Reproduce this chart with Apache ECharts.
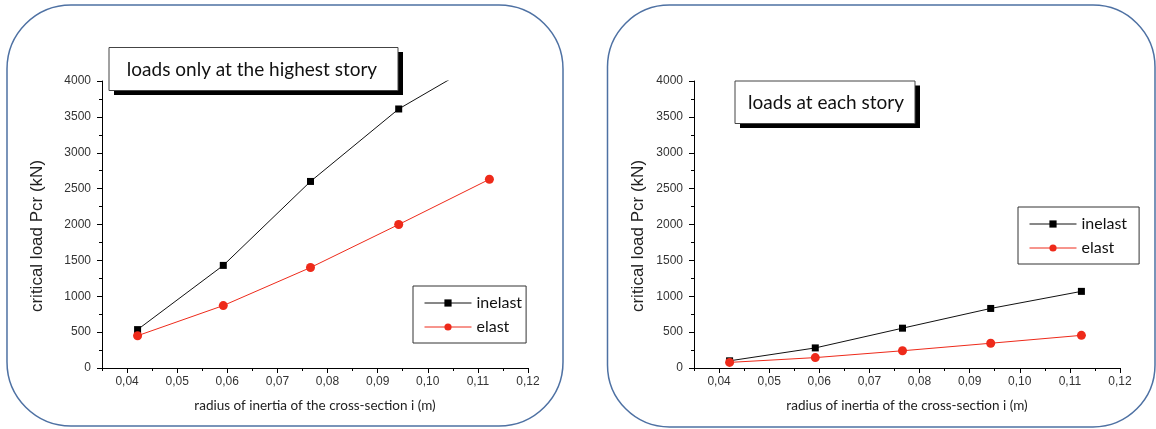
<!DOCTYPE html>
<html>
<head>
<meta charset="utf-8">
<script src="https://cdn.jsdelivr.net/npm/echarts@6/dist/echarts.min.js"></script>
<style>
html,body{margin:0;padding:0;background:#fff;}
#chart{width:1156px;height:429px;}
</style>
</head>
<body>
<div id="chart"></div>
<script>
// ---- data ----
const radius = [0.0421, 0.0592, 0.0766, 0.0942, 0.1123];
// loads only at the highest story
const topInelast = [535, 1430, 2600, 3610, 4345];
const topElast = [450, 870, 1400, 2000, 2630];
// loads at each story
const eachInelast = [100, 280, 555, 830, 1068];
const eachElast = [78, 145, 240, 345, 455];
const xMajorTicks = [0.04, 0.05, 0.06, 0.07, 0.08, 0.09, 0.10, 0.11, 0.12];
const xMinorTicks = [0.035, 0.045, 0.055, 0.065, 0.075, 0.085, 0.095, 0.105, 0.115];
const seriesNames = ['inelast', 'elast'];
const panelTitles = ['loads only at the highest story', 'loads at each story'];
const xTitle = 'radius of inertia of the cross-section i (m)';
const yTitle = 'critical load Pcr (kN)';

const pairs = (xs, ys) => xs.map((x, i) => [x, ys[i]]);
const RED = '#ee2a1a';
const BORDER = '#4e71a3';
const sansArial = "'Liberation Sans', Arial, sans-serif";
const sansTitle = "Lato, 'Open Sans', sans-serif";

const grids = [
  {left: 102, top: 81, width: 426, height: 287},
  {left: 694, top: 81, width: 426, height: 287}
];

function xAxesFor(gi) {
  return [
    {
      gridIndex: gi, type: 'value', position: 'bottom', min: 0.035, max: 0.12,
      axisLine: {show: true, onZero: false, lineStyle: {color: '#000', width: 1}},
      axisTick: {show: true, length: 5, customValues: xMajorTicks, lineStyle: {color: '#000'}},
      axisLabel: {customValues: xMajorTicks, margin: 8, fontSize: 12, color: '#333', fontFamily: sansArial,
        formatter: v => v.toFixed(2).replace('.', ',')},
      splitLine: {show: false},
      name: xTitle, nameLocation: 'middle', nameGap: 31,
      nameTextStyle: {fontFamily: sansTitle, fontSize: 13.5, color: '#222'}
    },
    {
      gridIndex: gi, type: 'value', position: 'bottom', min: 0.035, max: 0.12,
      axisLine: {show: false},
      axisTick: {show: true, length: 3, customValues: xMinorTicks, lineStyle: {color: '#000'}},
      axisLabel: {show: false},
      splitLine: {show: false}
    }
  ];
}
function yAxisFor(gi) {
  return {
    gridIndex: gi, type: 'value', min: 0, max: 4000, interval: 500,
    axisLine: {show: true, onZero: false, lineStyle: {color: '#000', width: 1}},
    axisTick: {show: true, length: 5, lineStyle: {color: '#000'}},
    minorTick: {show: true, splitNumber: 2, length: 3, lineStyle: {color: '#000'}},
    axisLabel: {margin: 11, fontSize: 12, color: '#333', fontFamily: sansArial, formatter: v => String(v)},
    splitLine: {show: false}, minorSplitLine: {show: false}
  };
}
function seriesFor(gi, inel, el) {
  return [
    {name: seriesNames[0], type: 'line', xAxisIndex: gi * 2, yAxisIndex: gi,
     data: pairs(radius, inel), symbol: 'rect', symbolSize: 7, clip: true,
     lineStyle: {color: '#111', width: 1}, itemStyle: {color: '#000'}},
    {name: seriesNames[1], type: 'line', xAxisIndex: gi * 2, yAxisIndex: gi,
     data: pairs(radius, el), symbol: 'circle', symbolSize: 9, clip: true,
     lineStyle: {color: RED, width: 1}, itemStyle: {color: RED}}
  ];
}
function legendAt(left, top, padRight) {
  return {
    data: seriesNames, orient: 'vertical', left: left, top: top,
    itemWidth: 47, itemHeight: 9, itemGap: 8,
    padding: [9, padRight, 8, 11],
    borderColor: '#333', borderWidth: 1, borderRadius: 0,
    backgroundColor: '#fff',
    lineStyle: {width: 1},
    textStyle: {fontFamily: sansTitle, fontSize: 16, color: '#111'},
    selectedMode: false
  };
}
function titleBox(x, y, w, h, text, cx, cy) {
  return [
    {type: 'rect', z: 20, shape: {x: x + 5, y: y + 4.5, width: w, height: h}, style: {fill: '#000'}},
    {type: 'rect', z: 21, shape: {x: x, y: y, width: w, height: h}, style: {fill: '#fff', stroke: '#444', lineWidth: 1}},
    {type: 'text', z: 22, x: cx, y: cy, style: {text: text, fontFamily: sansTitle, fontSize: 19, fill: '#111', align: 'center', verticalAlign: 'middle'}}
  ];
}

const chart = echarts.init(document.getElementById('chart'), null, {renderer: 'canvas'});
chart.setOption({
  animation: false,
  backgroundColor: '#fff',
  grid: grids,
  xAxis: [...xAxesFor(0), ...xAxesFor(1)],
  yAxis: [yAxisFor(0), yAxisFor(1)],
  series: [...seriesFor(0, topInelast, topElast), ...seriesFor(1, eachInelast, eachElast)],
  legend: [legendAt(413, 286, 4), legendAt(1018, 207, 12)],
  graphic: [
    {type: 'rect', z: -10, shape: {x: 7, y: 5, width: 556, height: 421, r: 64}, style: {fill: '#fff', stroke: BORDER, lineWidth: 1.5}},
    {type: 'rect', z: -10, shape: {x: 607.5, y: 5, width: 547.5, height: 422, r: 62}, style: {fill: '#fff', stroke: BORDER, lineWidth: 1.5}},
    ...titleBox(109, 47.5, 289, 43, panelTitles[0], 252, 70),
    ...titleBox(735, 81, 180, 42.5, panelTitles[1], 826, 103),
    {type: 'text', x: 37, y: 236, rotation: Math.PI / 2, style: {text: yTitle, fontFamily: sansArial, fontSize: 17, fill: '#222', align: 'center', verticalAlign: 'middle'}},
    {type: 'text', x: 638, y: 236, rotation: Math.PI / 2, style: {text: yTitle, fontFamily: sansArial, fontSize: 17, fill: '#222', align: 'center', verticalAlign: 'middle'}}
  ]
});
</script>
</body>
</html>
